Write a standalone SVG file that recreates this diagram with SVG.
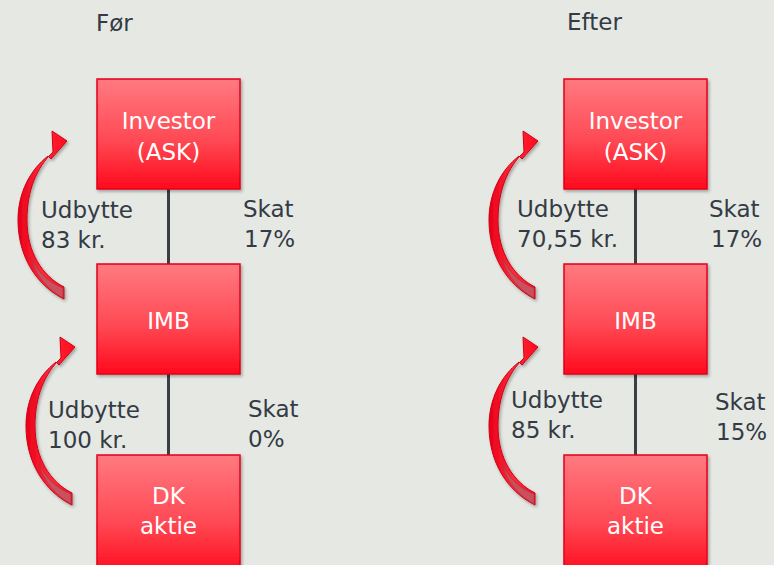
<svg xmlns="http://www.w3.org/2000/svg" width="774" height="565" viewBox="0 0 774 565">
<defs>
<style>
.lbl{font-family:"DejaVu Sans","Liberation Sans",sans-serif;font-size:23px;fill:#333b45;}
.box{fill:url(#boxg);stroke:#e4001b;stroke-width:1.5;filter:url(#sh);}
.bt{font-family:"DejaVu Sans","Liberation Sans",sans-serif;font-size:23px;fill:#ffffff;text-anchor:middle;}
.conn{stroke:#3a3f44;stroke-width:3;fill:none;}
</style>
<linearGradient id="boxg" x1="0" y1="0" x2="0" y2="1">
<stop offset="0" stop-color="#ff7a80"/>
<stop offset="0.55" stop-color="#ff4a55"/>
<stop offset="1" stop-color="#ff0a1c"/>
</linearGradient>
<linearGradient id="arrg" x1="0" y1="0" x2="1" y2="0">
<stop offset="0" stop-color="#e8001a"/>
<stop offset="0.5" stop-color="#ff2a38"/>
<stop offset="1" stop-color="#ff0a1c"/>
</linearGradient>
<filter id="sh" x="-10%" y="-10%" width="130%" height="130%">
<feDropShadow dx="1.5" dy="2" stdDeviation="1.5" flood-color="#000" flood-opacity="0.3"/>
</filter>
<g id="carrow">
<path d="M64,287 C42,276 27,252 27,220 C27,190 37,167 53,152 L52,131 L67,141 L51,159 L48,156 C30,170 18,193 18,220 C18,256 36,285 64,299 Z" fill="url(#arrg)" stroke="#d00018" stroke-width="1" filter="url(#sh)"/>
<path d="M63,288 C48,282 38,272 31,258 C36,276 48,290 63,298 Z" fill="#c9505c" stroke="#b0303c" stroke-width="0.7"/>
</g>
</defs>
<rect width="774" height="565" fill="#e6e8e3"/>
<text class="lbl" x="96" y="31">Før</text>
<text class="lbl" x="567" y="30">Efter</text>
<g id="connectors">
<line class="conn" x1="168.5" y1="189" x2="168.5" y2="264"/>
<line class="conn" x1="168.5" y1="374" x2="168.5" y2="455"/>
<line class="conn" x1="635.5" y1="189" x2="635.5" y2="264"/>
<line class="conn" x1="635.5" y1="374" x2="635.5" y2="455"/>
<use href="#carrow"/>
<use href="#carrow" transform="translate(8,206)"/>
<use href="#carrow" transform="translate(471,0)"/>
<use href="#carrow" transform="translate(471,206)"/>
</g>
<g id="investor-for">
<rect class="box" x="97" y="79" width="143" height="110"/>
<text class="bt" x="168.5" y="129">Investor</text>
<text class="bt" x="168.5" y="160">(ASK)</text>
</g>
<g id="imb-for">
<rect class="box" x="97" y="264" width="143" height="110"/>
<text class="bt" x="168.5" y="329">IMB</text>
</g>
<g id="dk-for">
<rect class="box" x="97" y="455" width="143" height="120"/>
<text class="bt" x="168.5" y="504">DK</text>
<text class="bt" x="168.5" y="534">aktie</text>
</g>
<g id="investor-efter">
<rect class="box" x="564" y="79" width="143" height="110"/>
<text class="bt" x="635.5" y="129">Investor</text>
<text class="bt" x="635.5" y="160">(ASK)</text>
</g>
<g id="imb-efter">
<rect class="box" x="564" y="264" width="143" height="110"/>
<text class="bt" x="635.5" y="329">IMB</text>
</g>
<g id="dk-efter">
<rect class="box" x="564" y="455" width="143" height="120"/>
<text class="bt" x="635.5" y="504">DK</text>
<text class="bt" x="635.5" y="534">aktie</text>
</g>
<g id="labels">
<text class="lbl" x="41" y="218">Udbytte</text>
<text class="lbl" x="41" y="248">83 kr.</text>
<text class="lbl" x="243" y="217">Skat</text>
<text class="lbl" x="244" y="247">17%</text>
<text class="lbl" x="48" y="418">Udbytte</text>
<text class="lbl" x="48" y="448">100 kr.</text>
<text class="lbl" x="248" y="417">Skat</text>
<text class="lbl" x="248" y="447">0%</text>
<text class="lbl" x="517" y="217">Udbytte</text>
<text class="lbl" x="517" y="247">70,55 kr.</text>
<text class="lbl" x="709" y="217">Skat</text>
<text class="lbl" x="711" y="247">17%</text>
<text class="lbl" x="511" y="408">Udbytte</text>
<text class="lbl" x="511" y="438">85 kr.</text>
<text class="lbl" x="715" y="410">Skat</text>
<text class="lbl" x="716" y="440">15%</text>
</g>
</svg>
